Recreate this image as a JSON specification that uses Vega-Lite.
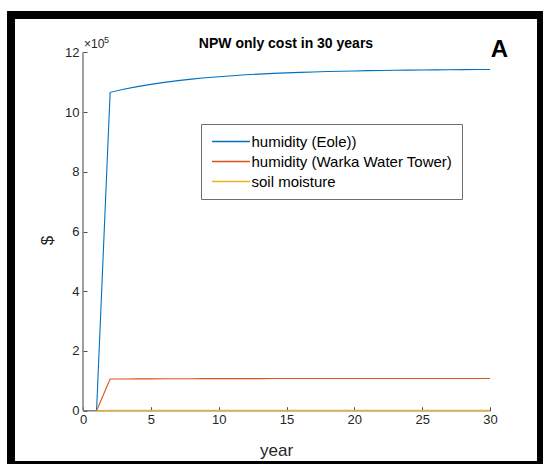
{
  "$schema": "https://vega.github.io/schema/vega-lite/v6.json",
  "width": 530,
  "height": 450,
  "autosize": {"type": "none"},
  "padding": {"left": 11, "top": 15, "right": 2, "bottom": 0},
  "background": "white",
  "title": {
    "text": "NPW only cost in 30 years",
    "font": "Liberation Sans",
    "fontSize": 14,
    "fontWeight": "bold",
    "color": "#000000",
    "anchor": "middle",
    "offset": -36,
    "dx": 10
  },
  "config": {
    "view": {"stroke": "#000000", "strokeWidth": 8, "fill": "white"},
    "axis": {
      "grid": false,
      "domain": false,
      "tickColor": "#4d4d4d",
      "tickWidth": 1,
      "tickSize": -4,
      "labelFont": "Liberation Sans",
      "labelFontSize": 13,
      "labelColor": "#262626",
      "titleFont": "Liberation Sans",
      "titleFontSize": 17,
      "titleFontWeight": "normal",
      "titleColor": "#262626"
    },
    "legend": {
      "orient": "none",
      "legendX": 190,
      "legendY": 109,
      "strokeColor": "#6e6e6e",
      "fillColor": "white",
      "padding": 9,
      "labelFont": "Liberation Sans",
      "labelFontSize": 15,
      "labelColor": "#000000",
      "labelLimit": 0,
      "symbolType": "M-2.53,0H2.53",
      "symbolSize": 225,
      "symbolStrokeWidth": 1.3,
      "symbolOffset": 12.5,
      "labelOffset": 12,
      "rowPadding": 3,
      "symbolFillColor": "transparent"
    }
  },
  "layer": [
    {
      "data": {"values": [{}]},
      "mark": {"type": "rule", "color": "#7f7f7f", "strokeWidth": 1.5},
      "encoding": {
        "x": {"datum": 0, "type": "quantitative"},
        "y": {"datum": 0, "type": "quantitative"},
        "y2": {"datum": 1200000}
      }
    },
    {
      "data": {"values": [{}]},
      "mark": {"type": "rule", "color": "#7f7f7f", "strokeWidth": 1.5},
      "encoding": {
        "x": {"datum": 0, "type": "quantitative"},
        "x2": {"datum": 30},
        "y": {"datum": 0, "type": "quantitative"}
      }
    },
    {
      "data": {
        "values": [
          {"year": 1, "source": "humidity (Eole))", "cost": 0},
          {"year": 2, "source": "humidity (Eole))", "cost": 1066000},
          {"year": 3, "source": "humidity (Eole))", "cost": 1076100},
          {"year": 4, "source": "humidity (Eole))", "cost": 1085000},
          {"year": 5, "source": "humidity (Eole))", "cost": 1092600},
          {"year": 6, "source": "humidity (Eole))", "cost": 1099300},
          {"year": 7, "source": "humidity (Eole))", "cost": 1105100},
          {"year": 8, "source": "humidity (Eole))", "cost": 1110200},
          {"year": 9, "source": "humidity (Eole))", "cost": 1114600},
          {"year": 10, "source": "humidity (Eole))", "cost": 1118400},
          {"year": 11, "source": "humidity (Eole))", "cost": 1121700},
          {"year": 12, "source": "humidity (Eole))", "cost": 1124600},
          {"year": 13, "source": "humidity (Eole))", "cost": 1127100},
          {"year": 14, "source": "humidity (Eole))", "cost": 1129300},
          {"year": 15, "source": "humidity (Eole))", "cost": 1131200},
          {"year": 16, "source": "humidity (Eole))", "cost": 1132900},
          {"year": 17, "source": "humidity (Eole))", "cost": 1134300},
          {"year": 18, "source": "humidity (Eole))", "cost": 1135600},
          {"year": 19, "source": "humidity (Eole))", "cost": 1136700},
          {"year": 20, "source": "humidity (Eole))", "cost": 1137600},
          {"year": 21, "source": "humidity (Eole))", "cost": 1138500},
          {"year": 22, "source": "humidity (Eole))", "cost": 1139200},
          {"year": 23, "source": "humidity (Eole))", "cost": 1139800},
          {"year": 24, "source": "humidity (Eole))", "cost": 1140400},
          {"year": 25, "source": "humidity (Eole))", "cost": 1140800},
          {"year": 26, "source": "humidity (Eole))", "cost": 1141200},
          {"year": 27, "source": "humidity (Eole))", "cost": 1141600},
          {"year": 28, "source": "humidity (Eole))", "cost": 1141900},
          {"year": 29, "source": "humidity (Eole))", "cost": 1142200},
          {"year": 30, "source": "humidity (Eole))", "cost": 1142400},
          {"year": 1, "source": "humidity (Warka Water Tower)", "cost": 0},
          {"year": 2, "source": "humidity (Warka Water Tower)", "cost": 106000},
          {"year": 3, "source": "humidity (Warka Water Tower)", "cost": 106260},
          {"year": 4, "source": "humidity (Warka Water Tower)", "cost": 106490},
          {"year": 5, "source": "humidity (Warka Water Tower)", "cost": 106680},
          {"year": 6, "source": "humidity (Warka Water Tower)", "cost": 106850},
          {"year": 7, "source": "humidity (Warka Water Tower)", "cost": 107000},
          {"year": 8, "source": "humidity (Warka Water Tower)", "cost": 107130},
          {"year": 9, "source": "humidity (Warka Water Tower)", "cost": 107250},
          {"year": 10, "source": "humidity (Warka Water Tower)", "cost": 107340},
          {"year": 11, "source": "humidity (Warka Water Tower)", "cost": 107430},
          {"year": 12, "source": "humidity (Warka Water Tower)", "cost": 107500},
          {"year": 13, "source": "humidity (Warka Water Tower)", "cost": 107570},
          {"year": 14, "source": "humidity (Warka Water Tower)", "cost": 107620},
          {"year": 15, "source": "humidity (Warka Water Tower)", "cost": 107670},
          {"year": 16, "source": "humidity (Warka Water Tower)", "cost": 107720},
          {"year": 17, "source": "humidity (Warka Water Tower)", "cost": 107750},
          {"year": 18, "source": "humidity (Warka Water Tower)", "cost": 107780},
          {"year": 19, "source": "humidity (Warka Water Tower)", "cost": 107810},
          {"year": 20, "source": "humidity (Warka Water Tower)", "cost": 107840},
          {"year": 21, "source": "humidity (Warka Water Tower)", "cost": 107860},
          {"year": 22, "source": "humidity (Warka Water Tower)", "cost": 107880},
          {"year": 23, "source": "humidity (Warka Water Tower)", "cost": 107890},
          {"year": 24, "source": "humidity (Warka Water Tower)", "cost": 107910},
          {"year": 25, "source": "humidity (Warka Water Tower)", "cost": 107920},
          {"year": 26, "source": "humidity (Warka Water Tower)", "cost": 107930},
          {"year": 27, "source": "humidity (Warka Water Tower)", "cost": 107940},
          {"year": 28, "source": "humidity (Warka Water Tower)", "cost": 107950},
          {"year": 29, "source": "humidity (Warka Water Tower)", "cost": 107950},
          {"year": 30, "source": "humidity (Warka Water Tower)", "cost": 107960},
          {"year": 1, "source": "soil moisture", "cost": 0},
          {"year": 2, "source": "soil moisture", "cost": 1000},
          {"year": 3, "source": "soil moisture", "cost": 1005},
          {"year": 4, "source": "soil moisture", "cost": 1010},
          {"year": 5, "source": "soil moisture", "cost": 1013},
          {"year": 6, "source": "soil moisture", "cost": 1016},
          {"year": 7, "source": "soil moisture", "cost": 1018},
          {"year": 8, "source": "soil moisture", "cost": 1020},
          {"year": 9, "source": "soil moisture", "cost": 1022},
          {"year": 10, "source": "soil moisture", "cost": 1023},
          {"year": 11, "source": "soil moisture", "cost": 1024},
          {"year": 12, "source": "soil moisture", "cost": 1024},
          {"year": 13, "source": "soil moisture", "cost": 1025},
          {"year": 14, "source": "soil moisture", "cost": 1025},
          {"year": 15, "source": "soil moisture", "cost": 1026},
          {"year": 16, "source": "soil moisture", "cost": 1026},
          {"year": 17, "source": "soil moisture", "cost": 1027},
          {"year": 18, "source": "soil moisture", "cost": 1027},
          {"year": 19, "source": "soil moisture", "cost": 1027},
          {"year": 20, "source": "soil moisture", "cost": 1028},
          {"year": 21, "source": "soil moisture", "cost": 1028},
          {"year": 22, "source": "soil moisture", "cost": 1028},
          {"year": 23, "source": "soil moisture", "cost": 1029},
          {"year": 24, "source": "soil moisture", "cost": 1029},
          {"year": 25, "source": "soil moisture", "cost": 1029},
          {"year": 26, "source": "soil moisture", "cost": 1029},
          {"year": 27, "source": "soil moisture", "cost": 1030},
          {"year": 28, "source": "soil moisture", "cost": 1030},
          {"year": 29, "source": "soil moisture", "cost": 1030},
          {"year": 30, "source": "soil moisture", "cost": 1030}
        ]
      },
      "mark": {"type": "line", "strokeWidth": 1.1},
      "encoding": {
        "x": {
          "field": "year",
          "type": "quantitative",
          "scale": {"domain": [-5.307, 33.759], "nice": false, "zero": false},
          "axis": {
            "values": [0, 5, 10, 15, 20, 25, 30],
            "offset": -54.3,
            "labelPadding": 7,
            "title": "year",
            "titlePadding": 16
          }
        },
        "y": {
          "field": "cost",
          "type": "quantitative",
          "scale": {"domain": [-181800, 1324900], "nice": false, "zero": false},
          "axis": {
            "values": [0, 200000, 400000, 600000, 800000, 1000000, 1200000],
            "labelExpr": "format(datum.value / 100000, 'd')",
            "offset": -72,
            "labelPadding": 8,
            "title": "$",
            "titlePadding": 8
          }
        },
        "color": {
          "field": "source",
          "type": "nominal",
          "scale": {
            "domain": ["humidity (Eole))", "humidity (Warka Water Tower)", "soil moisture"],
            "range": ["#0072BD", "#D95319", "#EDB120"]
          },
          "legend": {"title": null}
        }
      }
    },
    {
      "data": {"values": [{}]},
      "mark": {"type": "text", "text": "A", "font": "Liberation Sans", "fontSize": 24, "fontWeight": "bold", "color": "#000000", "align": "center", "baseline": "alphabetic"},
      "encoding": {
        "x": {"datum": 30.7, "type": "quantitative"},
        "y": {"datum": 1183300, "type": "quantitative"}
      }
    },
    {
      "data": {"values": [{}]},
      "mark": {"type": "text", "text": "×10", "font": "Liberation Sans", "fontSize": 12, "color": "#262626", "align": "left", "baseline": "alphabetic", "dx": 1, "dy": -4},
      "encoding": {
        "x": {"datum": 0, "type": "quantitative"},
        "y": {"datum": 1200000, "type": "quantitative"}
      }
    },
    {
      "data": {"values": [{}]},
      "mark": {"type": "text", "text": "5", "font": "Liberation Sans", "fontSize": 9, "color": "#262626", "align": "left", "baseline": "alphabetic", "dx": 21, "dy": -9},
      "encoding": {
        "x": {"datum": 0, "type": "quantitative"},
        "y": {"datum": 1200000, "type": "quantitative"}
      }
    }
  ]
}
